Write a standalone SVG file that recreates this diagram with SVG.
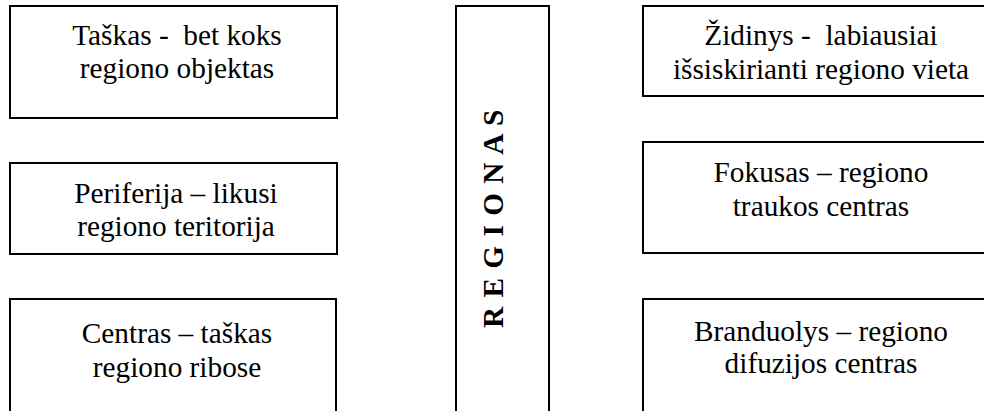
<svg xmlns="http://www.w3.org/2000/svg" width="984" height="411" viewBox="0 0 984 411">
<style>
.box{fill:#fff;stroke:#000;stroke-width:2}
text{font-family:'Liberation Serif','Times New Roman',serif;fill:#000}
.t{font-size:29.3px;text-anchor:middle}
.v{font-size:29.3px;font-weight:bold;letter-spacing:1px}
</style>
<rect width="984" height="411" fill="#fff"/>
<g id="connectors"></g>
<g id="taskas">
<rect class="box" x="10" y="6" width="327" height="112"/>
<text class="t" xml:space="preserve"><tspan x="177" y="45">Taškas -  bet koks</tspan><tspan x="177" y="78">regiono objektas</tspan></text>
</g>
<g id="periferija">
<rect class="box" x="10" y="163" width="327" height="91"/>
<text class="t"><tspan x="176" y="203">Periferija – likusi</tspan><tspan x="176" y="236">regiono teritorija</tspan></text>
</g>
<g id="centras">
<rect class="box" x="10" y="299" width="326" height="140"/>
<text class="t"><tspan x="177" y="343">Centras – taškas</tspan><tspan x="177" y="377">regiono ribose</tspan></text>
</g>
<g id="regionas">
<rect class="box" x="456" y="6" width="93" height="430"/>
<text class="v" transform="translate(503,328) rotate(-90)" x="0" y="0">R E G I O N A S</text>
</g>
<g id="zidinys">
<rect class="box" x="643" y="6" width="360" height="90"/>
<text class="t" xml:space="preserve"><tspan x="821" y="45">Židinys -  labiausiai</tspan><tspan x="821" y="79">išsiskirianti regiono vieta</tspan></text>
</g>
<g id="fokusas">
<rect class="box" x="643" y="142" width="360" height="111"/>
<text class="t"><tspan x="821" y="182">Fokusas – regiono</tspan><tspan x="821" y="216">traukos centras</tspan></text>
</g>
<g id="branduolys">
<rect class="box" x="643" y="299" width="360" height="140"/>
<text class="t"><tspan x="821" y="341">Branduolys – regiono</tspan><tspan x="821" y="373">difuzijos centras</tspan></text>
</g>
</svg>
